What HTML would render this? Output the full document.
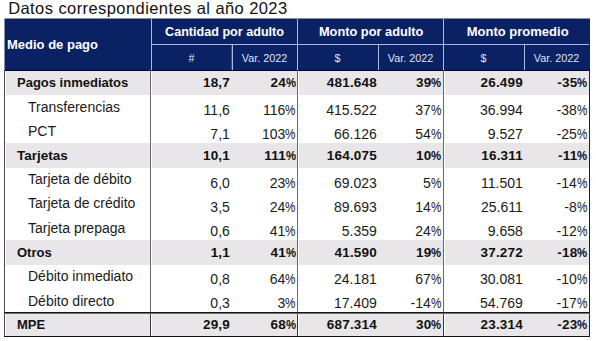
<!DOCTYPE html>
<html><head><meta charset="utf-8"><style>
html,body{margin:0;padding:0;background:#fff;}
body{width:596px;height:341px;position:relative;overflow:hidden;font-family:"Liberation Sans",sans-serif;}
.t{position:absolute;white-space:nowrap;line-height:20px;height:20px;}
.r{position:absolute;}
.pc{display:inline-block;transform:scaleX(.84);transform-origin:0 0;width:.75em;text-align:left;}
</style></head><body>
<div class="t" style="left:8.20px;top:-2.00px;font-size:16.5px;font-weight:400;color:#111;letter-spacing:0.42px;">Datos correspondientes al año 2023</div>
<div class="r" style="left:5px;top:19px;width:585px;height:51px;background:#0a2264"></div>
<div class="r" style="left:5px;top:18px;width:585px;height:1px;background:#8490b1"></div>
<div class="r" style="left:4px;top:19px;width:1px;height:51px;background:#8490b1"></div>
<div class="r" style="left:4px;top:18px;width:1px;height:1px;background:#c2c8d8"></div>
<div class="r" style="left:151px;top:19px;width:1px;height:51px;background:#a9b8e6"></div>
<div class="r" style="left:297px;top:19px;width:1px;height:51px;background:#a9b8e6"></div>
<div class="r" style="left:443px;top:19px;width:1px;height:51px;background:#a9b8e6"></div>
<div class="r" style="left:151px;top:44px;width:438px;height:1px;background:#a9b8e6"></div>
<div class="r" style="left:232px;top:45px;width:1px;height:25px;background:#a9b8e6"></div>
<div class="r" style="left:231px;top:45px;width:1px;height:25px;background:#3a4c86"></div>
<div class="r" style="left:378px;top:44px;width:1px;height:26px;background:#a9b8e6"></div>
<div class="r" style="left:524px;top:44px;width:1px;height:26px;background:#a9b8e6"></div>
<div class="r" style="left:4px;top:70px;width:586px;height:1px;background:#050a1e"></div>
<div class="t" style="left:7.00px;top:35.00px;font-size:13px;font-weight:700;color:#ffffff;">Medio de pago</div>
<div class="t" style="left:74.50px;width:300px;text-align:center;top:22.00px;font-size:12.6px;font-weight:700;color:#ffffff;">Cantidad por adulto</div>
<div class="t" style="left:221.20px;width:300px;text-align:center;top:22.00px;font-size:12.8px;font-weight:700;color:#ffffff;">Monto por adulto</div>
<div class="t" style="left:367.70px;width:300px;text-align:center;top:22.00px;font-size:13px;font-weight:700;color:#ffffff;">Monto promedio</div>
<div class="t" style="left:41.50px;width:300px;text-align:center;top:48.00px;font-size:10.8px;font-weight:400;color:#dfe5f5;">#</div>
<div class="t" style="left:114.50px;width:300px;text-align:center;top:48.00px;font-size:10.8px;font-weight:400;color:#dfe5f5;">Var. 2022</div>
<div class="t" style="left:187.50px;width:300px;text-align:center;top:48.00px;font-size:10.8px;font-weight:400;color:#dfe5f5;">$</div>
<div class="t" style="left:260.50px;width:300px;text-align:center;top:48.00px;font-size:10.8px;font-weight:400;color:#dfe5f5;">Var. 2022</div>
<div class="t" style="left:333.50px;width:300px;text-align:center;top:48.00px;font-size:10.8px;font-weight:400;color:#dfe5f5;">$</div>
<div class="t" style="left:406.50px;width:300px;text-align:center;top:48.00px;font-size:10.8px;font-weight:400;color:#dfe5f5;">Var. 2022</div>
<div class="r" style="left:6px;top:71px;width:144px;height:24px;background:#e8e6e8"></div>
<div class="r" style="left:152px;top:71px;width:145px;height:24px;background:#e8e6e8"></div>
<div class="r" style="left:299px;top:71px;width:144px;height:24px;background:#e8e6e8"></div>
<div class="r" style="left:445px;top:71px;width:144px;height:24px;background:#e8e6e8"></div>
<div class="r" style="left:6px;top:143px;width:144px;height:25px;background:#e8e6e8"></div>
<div class="r" style="left:152px;top:143px;width:145px;height:25px;background:#e8e6e8"></div>
<div class="r" style="left:299px;top:143px;width:144px;height:25px;background:#e8e6e8"></div>
<div class="r" style="left:445px;top:143px;width:144px;height:25px;background:#e8e6e8"></div>
<div class="r" style="left:6px;top:240px;width:144px;height:25px;background:#e8e6e8"></div>
<div class="r" style="left:152px;top:240px;width:145px;height:25px;background:#e8e6e8"></div>
<div class="r" style="left:299px;top:240px;width:144px;height:25px;background:#e8e6e8"></div>
<div class="r" style="left:445px;top:240px;width:144px;height:25px;background:#e8e6e8"></div>
<div class="r" style="left:6px;top:314px;width:144px;height:22px;background:#e8e6e8"></div>
<div class="r" style="left:152px;top:314px;width:145px;height:22px;background:#e8e6e8"></div>
<div class="r" style="left:299px;top:314px;width:144px;height:22px;background:#e8e6e8"></div>
<div class="r" style="left:445px;top:314px;width:144px;height:22px;background:#e8e6e8"></div>
<div class="r" style="left:4px;top:70px;width:1px;height:267px;background:#4a4a4a"></div>
<div class="r" style="left:150px;top:70px;width:1px;height:267px;background:#6a6a6a"></div>
<div class="r" style="left:297px;top:70px;width:1px;height:267px;background:#6a6a6a"></div>
<div class="r" style="left:443px;top:70px;width:1px;height:267px;background:#6a6a6a"></div>
<div class="r" style="left:589px;top:70px;width:1px;height:267px;background:#222"></div>
<div class="r" style="left:4px;top:312px;width:586px;height:1px;background:#151515"></div>
<div class="r" style="left:4px;top:313px;width:586px;height:1px;background:#707070"></div>
<div class="r" style="left:150px;top:314px;width:1px;height:22px;background:#3a3a3a"></div>
<div class="r" style="left:297px;top:314px;width:1px;height:22px;background:#3a3a3a"></div>
<div class="r" style="left:443px;top:314px;width:1px;height:22px;background:#3a3a3a"></div>
<div class="r" style="left:4px;top:336px;width:586px;height:1px;background:#111"></div>
<div class="t" style="left:17.00px;top:73.00px;font-size:13px;font-weight:700;color:#111;">Pagos inmediatos</div>
<div class="t" style="left:-70.00px;width:300px;text-align:right;top:73.00px;font-size:13.5px;font-weight:700;color:#111;letter-spacing:0.2px;">18,7</div>
<div class="t" style="left:-4.00px;width:300px;text-align:right;top:73.00px;font-size:13.5px;font-weight:700;color:#111;letter-spacing:0.2px;">24<span class="pc">%</span></div>
<div class="t" style="left:77.00px;width:300px;text-align:right;top:73.00px;font-size:13.5px;font-weight:700;color:#111;letter-spacing:0.2px;">481.648</div>
<div class="t" style="left:141.50px;width:300px;text-align:right;top:73.00px;font-size:13.5px;font-weight:700;color:#111;letter-spacing:0.2px;">39<span class="pc">%</span></div>
<div class="t" style="left:223.00px;width:300px;text-align:right;top:73.00px;font-size:13.5px;font-weight:700;color:#111;letter-spacing:0.2px;">26.499</div>
<div class="t" style="left:287.50px;width:300px;text-align:right;top:73.00px;font-size:13.5px;font-weight:700;color:#111;letter-spacing:0.2px;">-35<span class="pc">%</span></div>
<div class="t" style="left:28.00px;top:97.00px;font-size:14px;font-weight:400;color:#1a1a1a;">Transferencias</div>
<div class="t" style="left:-70.20px;width:300px;text-align:right;top:100.00px;font-size:14px;font-weight:400;color:#1a1a1a;">11,6</div>
<div class="t" style="left:-4.20px;width:300px;text-align:right;top:100.00px;font-size:14px;font-weight:400;color:#1a1a1a;">116<span class="pc">%</span></div>
<div class="t" style="left:76.80px;width:300px;text-align:right;top:100.00px;font-size:14px;font-weight:400;color:#1a1a1a;">415.522</div>
<div class="t" style="left:141.30px;width:300px;text-align:right;top:100.00px;font-size:14px;font-weight:400;color:#1a1a1a;">37<span class="pc">%</span></div>
<div class="t" style="left:222.80px;width:300px;text-align:right;top:100.00px;font-size:14px;font-weight:400;color:#1a1a1a;">36.994</div>
<div class="t" style="left:287.30px;width:300px;text-align:right;top:100.00px;font-size:14px;font-weight:400;color:#1a1a1a;">-38<span class="pc">%</span></div>
<div class="t" style="left:28.00px;top:121.00px;font-size:14px;font-weight:400;color:#1a1a1a;">PCT</div>
<div class="t" style="left:-70.20px;width:300px;text-align:right;top:124.00px;font-size:14px;font-weight:400;color:#1a1a1a;">7,1</div>
<div class="t" style="left:-4.20px;width:300px;text-align:right;top:124.00px;font-size:14px;font-weight:400;color:#1a1a1a;">103<span class="pc">%</span></div>
<div class="t" style="left:76.80px;width:300px;text-align:right;top:124.00px;font-size:14px;font-weight:400;color:#1a1a1a;">66.126</div>
<div class="t" style="left:141.30px;width:300px;text-align:right;top:124.00px;font-size:14px;font-weight:400;color:#1a1a1a;">54<span class="pc">%</span></div>
<div class="t" style="left:222.80px;width:300px;text-align:right;top:124.00px;font-size:14px;font-weight:400;color:#1a1a1a;">9.527</div>
<div class="t" style="left:287.30px;width:300px;text-align:right;top:124.00px;font-size:14px;font-weight:400;color:#1a1a1a;">-25<span class="pc">%</span></div>
<div class="t" style="left:17.00px;top:146.00px;font-size:13.5px;font-weight:700;color:#111;">Tarjetas</div>
<div class="t" style="left:-70.00px;width:300px;text-align:right;top:146.00px;font-size:13.5px;font-weight:700;color:#111;letter-spacing:0.2px;">10,1</div>
<div class="t" style="left:-4.00px;width:300px;text-align:right;top:146.00px;font-size:13.5px;font-weight:700;color:#111;letter-spacing:0.2px;">111<span class="pc">%</span></div>
<div class="t" style="left:77.00px;width:300px;text-align:right;top:146.00px;font-size:13.5px;font-weight:700;color:#111;letter-spacing:0.2px;">164.075</div>
<div class="t" style="left:141.50px;width:300px;text-align:right;top:146.00px;font-size:13.5px;font-weight:700;color:#111;letter-spacing:0.2px;">10<span class="pc">%</span></div>
<div class="t" style="left:223.00px;width:300px;text-align:right;top:146.00px;font-size:13.5px;font-weight:700;color:#111;letter-spacing:0.2px;">16.311</div>
<div class="t" style="left:287.50px;width:300px;text-align:right;top:146.00px;font-size:13.5px;font-weight:700;color:#111;letter-spacing:0.2px;">-11<span class="pc">%</span></div>
<div class="t" style="left:28.00px;top:169.00px;font-size:14px;font-weight:400;color:#1a1a1a;">Tarjeta de débito</div>
<div class="t" style="left:-70.20px;width:300px;text-align:right;top:173.00px;font-size:14px;font-weight:400;color:#1a1a1a;">6,0</div>
<div class="t" style="left:-4.20px;width:300px;text-align:right;top:173.00px;font-size:14px;font-weight:400;color:#1a1a1a;">23<span class="pc">%</span></div>
<div class="t" style="left:76.80px;width:300px;text-align:right;top:173.00px;font-size:14px;font-weight:400;color:#1a1a1a;">69.023</div>
<div class="t" style="left:141.30px;width:300px;text-align:right;top:173.00px;font-size:14px;font-weight:400;color:#1a1a1a;">5<span class="pc">%</span></div>
<div class="t" style="left:222.80px;width:300px;text-align:right;top:173.00px;font-size:14px;font-weight:400;color:#1a1a1a;">11.501</div>
<div class="t" style="left:287.30px;width:300px;text-align:right;top:173.00px;font-size:14px;font-weight:400;color:#1a1a1a;">-14<span class="pc">%</span></div>
<div class="t" style="left:28.00px;top:193.00px;font-size:14px;font-weight:400;color:#1a1a1a;">Tarjeta de crédito</div>
<div class="t" style="left:-70.20px;width:300px;text-align:right;top:197.00px;font-size:14px;font-weight:400;color:#1a1a1a;">3,5</div>
<div class="t" style="left:-4.20px;width:300px;text-align:right;top:197.00px;font-size:14px;font-weight:400;color:#1a1a1a;">24<span class="pc">%</span></div>
<div class="t" style="left:76.80px;width:300px;text-align:right;top:197.00px;font-size:14px;font-weight:400;color:#1a1a1a;">89.693</div>
<div class="t" style="left:141.30px;width:300px;text-align:right;top:197.00px;font-size:14px;font-weight:400;color:#1a1a1a;">14<span class="pc">%</span></div>
<div class="t" style="left:222.80px;width:300px;text-align:right;top:197.00px;font-size:14px;font-weight:400;color:#1a1a1a;">25.611</div>
<div class="t" style="left:287.30px;width:300px;text-align:right;top:197.00px;font-size:14px;font-weight:400;color:#1a1a1a;">-8<span class="pc">%</span></div>
<div class="t" style="left:28.00px;top:218.00px;font-size:14px;font-weight:400;color:#1a1a1a;">Tarjeta prepaga</div>
<div class="t" style="left:-70.20px;width:300px;text-align:right;top:221.00px;font-size:14px;font-weight:400;color:#1a1a1a;">0,6</div>
<div class="t" style="left:-4.20px;width:300px;text-align:right;top:221.00px;font-size:14px;font-weight:400;color:#1a1a1a;">41<span class="pc">%</span></div>
<div class="t" style="left:76.80px;width:300px;text-align:right;top:221.00px;font-size:14px;font-weight:400;color:#1a1a1a;">5.359</div>
<div class="t" style="left:141.30px;width:300px;text-align:right;top:221.00px;font-size:14px;font-weight:400;color:#1a1a1a;">24<span class="pc">%</span></div>
<div class="t" style="left:222.80px;width:300px;text-align:right;top:221.00px;font-size:14px;font-weight:400;color:#1a1a1a;">9.658</div>
<div class="t" style="left:287.30px;width:300px;text-align:right;top:221.00px;font-size:14px;font-weight:400;color:#1a1a1a;">-12<span class="pc">%</span></div>
<div class="t" style="left:17.00px;top:243.00px;font-size:13px;font-weight:700;color:#111;">Otros</div>
<div class="t" style="left:-70.00px;width:300px;text-align:right;top:243.00px;font-size:13.5px;font-weight:700;color:#111;letter-spacing:0.2px;">1,1</div>
<div class="t" style="left:-4.00px;width:300px;text-align:right;top:243.00px;font-size:13.5px;font-weight:700;color:#111;letter-spacing:0.2px;">41<span class="pc">%</span></div>
<div class="t" style="left:77.00px;width:300px;text-align:right;top:243.00px;font-size:13.5px;font-weight:700;color:#111;letter-spacing:0.2px;">41.590</div>
<div class="t" style="left:141.50px;width:300px;text-align:right;top:243.00px;font-size:13.5px;font-weight:700;color:#111;letter-spacing:0.2px;">19<span class="pc">%</span></div>
<div class="t" style="left:223.00px;width:300px;text-align:right;top:243.00px;font-size:13.5px;font-weight:700;color:#111;letter-spacing:0.2px;">37.272</div>
<div class="t" style="left:287.50px;width:300px;text-align:right;top:243.00px;font-size:13.5px;font-weight:700;color:#111;letter-spacing:0.2px;">-18<span class="pc">%</span></div>
<div class="t" style="left:28.00px;top:266.00px;font-size:14px;font-weight:400;color:#1a1a1a;">Débito inmediato</div>
<div class="t" style="left:-70.20px;width:300px;text-align:right;top:269.00px;font-size:14px;font-weight:400;color:#1a1a1a;">0,8</div>
<div class="t" style="left:-4.20px;width:300px;text-align:right;top:269.00px;font-size:14px;font-weight:400;color:#1a1a1a;">64<span class="pc">%</span></div>
<div class="t" style="left:76.80px;width:300px;text-align:right;top:269.00px;font-size:14px;font-weight:400;color:#1a1a1a;">24.181</div>
<div class="t" style="left:141.30px;width:300px;text-align:right;top:269.00px;font-size:14px;font-weight:400;color:#1a1a1a;">67<span class="pc">%</span></div>
<div class="t" style="left:222.80px;width:300px;text-align:right;top:269.00px;font-size:14px;font-weight:400;color:#1a1a1a;">30.081</div>
<div class="t" style="left:287.30px;width:300px;text-align:right;top:269.00px;font-size:14px;font-weight:400;color:#1a1a1a;">-10<span class="pc">%</span></div>
<div class="t" style="left:28.00px;top:291.00px;font-size:14px;font-weight:400;color:#1a1a1a;">Débito directo</div>
<div class="t" style="left:-70.20px;width:300px;text-align:right;top:293.00px;font-size:14px;font-weight:400;color:#1a1a1a;">0,3</div>
<div class="t" style="left:-4.20px;width:300px;text-align:right;top:293.00px;font-size:14px;font-weight:400;color:#1a1a1a;">3<span class="pc">%</span></div>
<div class="t" style="left:76.80px;width:300px;text-align:right;top:293.00px;font-size:14px;font-weight:400;color:#1a1a1a;">17.409</div>
<div class="t" style="left:141.30px;width:300px;text-align:right;top:293.00px;font-size:14px;font-weight:400;color:#1a1a1a;">-14<span class="pc">%</span></div>
<div class="t" style="left:222.80px;width:300px;text-align:right;top:293.00px;font-size:14px;font-weight:400;color:#1a1a1a;">54.769</div>
<div class="t" style="left:287.30px;width:300px;text-align:right;top:293.00px;font-size:14px;font-weight:400;color:#1a1a1a;">-17<span class="pc">%</span></div>
<div class="t" style="left:17.00px;top:315.00px;font-size:13px;font-weight:700;color:#111;">MPE</div>
<div class="t" style="left:-70.00px;width:300px;text-align:right;top:315.00px;font-size:13.5px;font-weight:700;color:#111;letter-spacing:0.2px;">29,9</div>
<div class="t" style="left:-4.00px;width:300px;text-align:right;top:315.00px;font-size:13.5px;font-weight:700;color:#111;letter-spacing:0.2px;">68<span class="pc">%</span></div>
<div class="t" style="left:77.00px;width:300px;text-align:right;top:315.00px;font-size:13.5px;font-weight:700;color:#111;letter-spacing:0.2px;">687.314</div>
<div class="t" style="left:141.50px;width:300px;text-align:right;top:315.00px;font-size:13.5px;font-weight:700;color:#111;letter-spacing:0.2px;">30<span class="pc">%</span></div>
<div class="t" style="left:223.00px;width:300px;text-align:right;top:315.00px;font-size:13.5px;font-weight:700;color:#111;letter-spacing:0.2px;">23.314</div>
<div class="t" style="left:287.50px;width:300px;text-align:right;top:315.00px;font-size:13.5px;font-weight:700;color:#111;letter-spacing:0.2px;">-23<span class="pc">%</span></div>
</body></html>
